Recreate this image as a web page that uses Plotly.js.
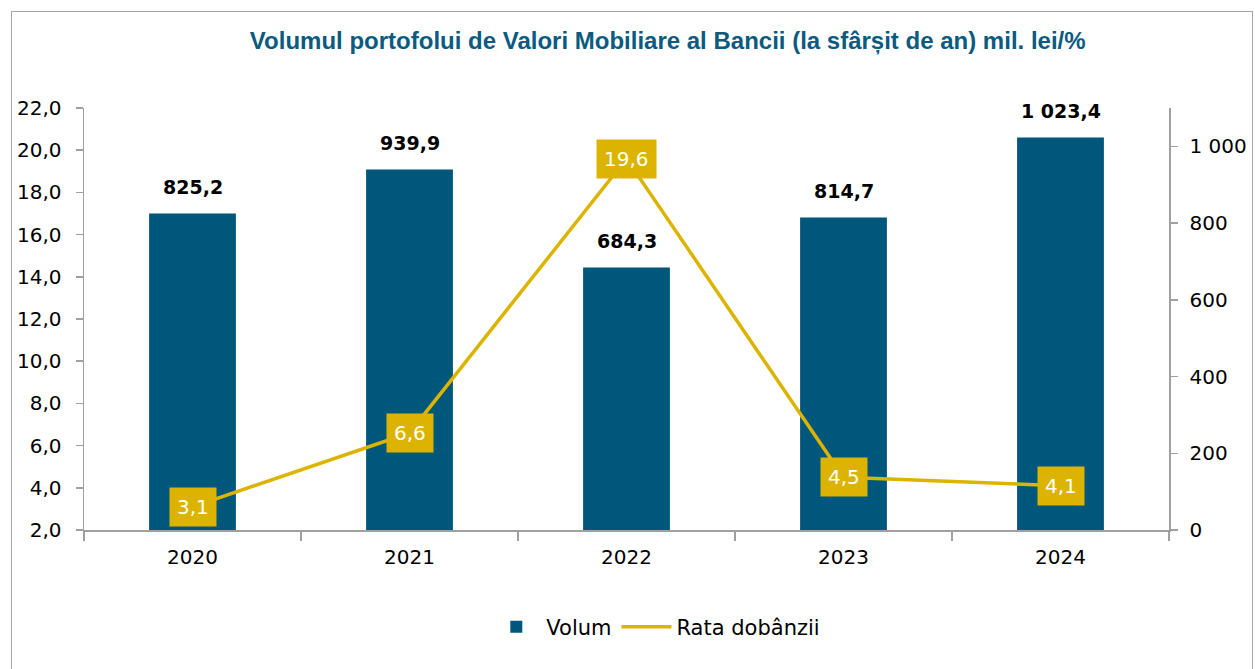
<!DOCTYPE html>
<html><head><meta charset="utf-8">
<script src="https://cdn.plot.ly/plotly-3.0.1.min.js"></script>
<style>
html,body{margin:0;padding:0;background:#fff;}
#wrap{position:relative;width:1255px;height:669px;overflow:hidden;}
#chart{width:1255px;height:669px;}
#frame{position:absolute;left:11px;top:11px;width:1240px;height:700px;border:1px solid #a6a6a6;pointer-events:none;}
</style></head>
<body>
<div id="wrap"><div id="chart"></div><div id="frame"></div></div>
<script>
const years = ['2020','2021','2022','2023','2024'];
const volum = [825.2, 939.9, 684.3, 814.7, 1023.4];
const rata = [3.1, 6.6, 19.6, 4.5, 4.1];
const seriesNames = ['Volum','Rata dobânzii'];
const titleText = 'Volumul portofolui de Valori Mobiliare al Bancii (la sfârșit de an) mil. lei/%';

const BAR = '#00577c';
const GOLD = '#dcb400';
const FONT = '"DejaVu Sans", Lato, sans-serif';

function fmt(v){
  const s = v.toFixed(1).split('.');
  const intp = s[0].replace(/\B(?=(\d{3})+(?!\d))/g,' ');
  return intp + ',' + s[1];
}

const traces = [
  {type:'bar', x:years, y:volum, name:seriesNames[0], yaxis:'y', xaxis:'x',
   marker:{color:BAR}, width:0.4, hoverinfo:'none'},
  {type:'scatter', mode:'lines', x:years, y:rata, name:seriesNames[1], yaxis:'y2', xaxis:'x',
   line:{color:GOLD, width:3.5}, hoverinfo:'none'}
];

const annotations = [];
years.forEach((yr,i)=>{
  annotations.push({x:i, y:volum[i], xref:'x', yref:'y', text:'<b>'+fmt(volum[i])+'</b>',
    showarrow:false, yanchor:'bottom', yshift:13, font:{family:FONT, size:19, color:'#000'}});
  annotations.push({x:i, y:rata[i], xref:'x', yref:'y2', text:fmt(rata[i]),
    showarrow:false, bgcolor:GOLD, borderpad:7, font:{family:FONT, size:20, color:'#fff'}});
});

function axisCommon(){
  return {showgrid:false, zeroline:false, showline:true, linecolor:'#a0a0a0', linewidth:1.5,
  ticks:'outside', ticklen:7, tickcolor:'#a0a0a0', tickwidth:1.5,
  tickfont:{family:FONT, size:20, color:'#000'}};
}

const layout = {
  width:1255, height:669,
  margin:{l:84, r:86, t:108, b:139},
  paper_bgcolor:'#fff', plot_bgcolor:'#fff',
  separators:', ',
  title:{text:'<b>'+titleText+'</b>', x:0.538, xref:'paper', xanchor:'center', y:0.94, yanchor:'middle', yref:'container',
    font:{family:'Arial, "Liberation Sans", sans-serif', size:24, color:'#0b5a80'}},
  xaxis:Object.assign(axisCommon(), {type:'category', range:[-0.5,4.5], tickson:'boundaries', ticklen:9, tickangle:0,
    ticklabelstandoff:8}),
  yaxis:Object.assign(axisCommon(), {side:'right', range:[0,1100], tickvals:[0,200,400,600,800,1000],
    tickformat:',d', ticklabelstandoff:8}),
  yaxis2:Object.assign(axisCommon(), {side:'left', overlaying:'y', range:[2,22], dtick:2, tick0:2,
    tickformat:'.1f', ticklabelstandoff:10}),
  showlegend:true,
  legend:{orientation:'h', x:0.527, xanchor:'center', y:-0.23, yanchor:'middle', itemwidth:50,
    font:{family:FONT, size:21, color:'#000'}},
  annotations:annotations
};
Plotly.newPlot('chart', traces, layout, {displayModeBar:false, staticPlot:true});
</script>
</body></html>
